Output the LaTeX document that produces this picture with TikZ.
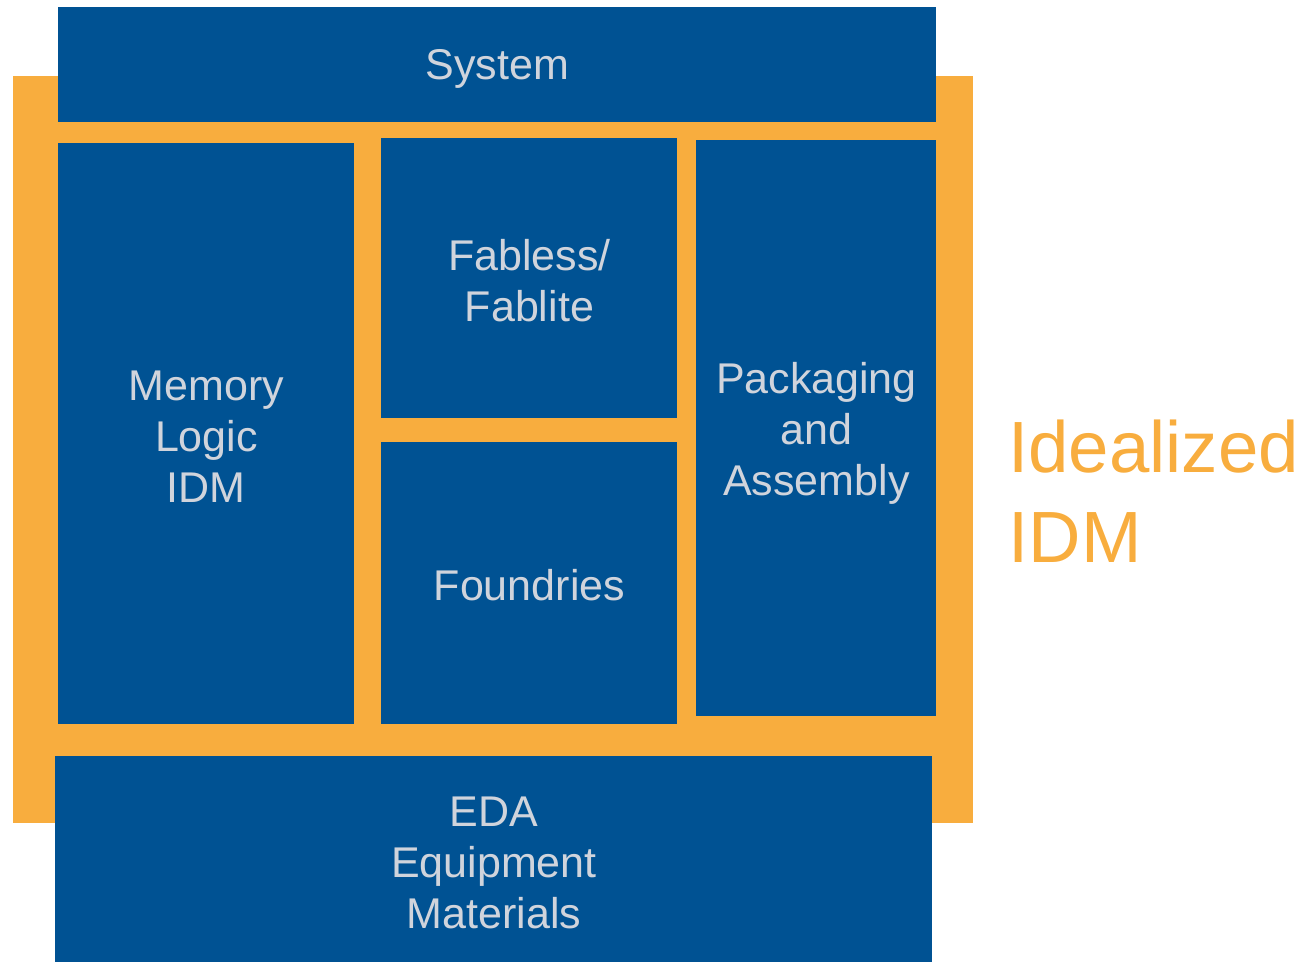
\documentclass[tikz,border=0pt]{standalone}
\usepackage{fontspec}
\setmainfont{Liberation Sans}
\definecolor{idmblue}{RGB}{0,82,147}
\definecolor{idmorange}{RGB}{248,173,62}
\definecolor{idmtext}{RGB}{208,212,220}
\tikzset{
  blockbox/.style={fill=idmblue, draw=none, anchor=north west, inner sep=0pt},
  blocktext/.style={inner sep=0pt, align=center, text=idmtext,
    font=\fontsize{21.5}{25.5}\selectfont},
  bigtext/.style={anchor=base west, inner sep=0pt, text=idmorange,
    font=\fontsize{36.3}{44.5}\selectfont}
}
\begin{document}
\begin{tikzpicture}[x=0.5pt, y=-0.5pt]
\useasboundingbox (0,0) rectangle (1311,962);
\fill[idmorange] (13,76) rectangle (973,823);
\node[blockbox, minimum width=439pt, minimum height=57.5pt] (system) at (58,7) {};
\node[blockbox, minimum width=148pt, minimum height=290.5pt] (memory) at (58,143) {};
\node[blockbox, minimum width=148pt, minimum height=140pt] (fabless) at (381,138) {};
\node[blockbox, minimum width=148pt, minimum height=141pt] (foundries) at (381,442) {};
\node[blockbox, minimum width=120pt, minimum height=288pt] (packaging) at (696,140) {};
\node[blockbox, minimum width=438.5pt, minimum height=103pt] (eda) at (55,756) {};
\node[blocktext] (systemtxt) at ([yshift=-2pt]system.center) {System};
\node[blocktext] (memorytxt) at ([yshift=-1.5pt]memory.center) {Memory\\Logic\\IDM};
\node[blocktext] (fablesstxt) at ([yshift=-1pt]fabless.center) {Fabless/\\Fablite};
\node[blocktext] (foundriestxt) at ([yshift=-0.75pt]foundries.center) {Foundries};
\node[blocktext] (packagingtxt) at ([yshift=-2.5pt]packaging.center) {Packaging\\and\\Assembly};
\node[blocktext] (edatxt) at ([yshift=-2pt]eda.center) {EDA\\Equipment\\Materials};
\node[bigtext] (ideal) at (1008,473) {Idealized};
\node[bigtext] (idm) at (1008,562) {IDM};
\end{tikzpicture}
\end{document}
